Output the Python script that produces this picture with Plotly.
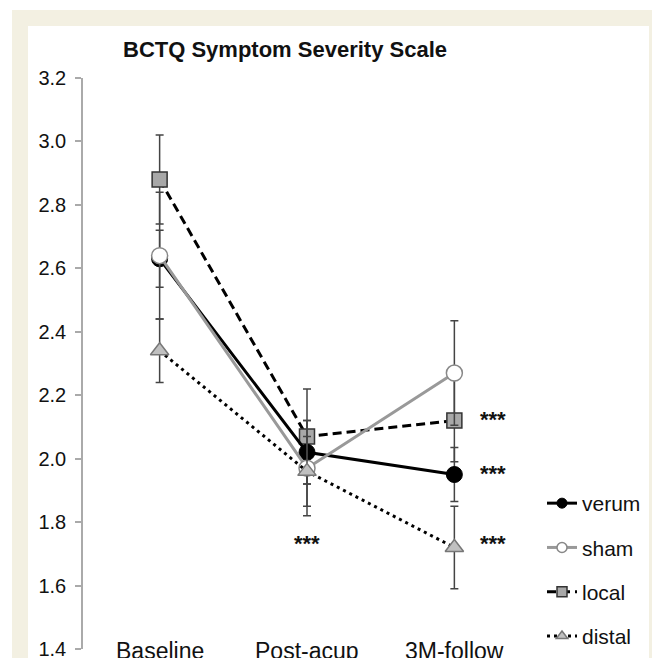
import plotly.graph_objects as go

categories = ["Baseline", "Post-acup", "3M-follow"]
x_pos = [0, 1, 2]

verum = [2.63, 2.02, 1.95]
verum_err = [0.09, 0.10, 0.085]
sham = [2.64, 1.97, 2.27]
sham_err = [0.20, 0.15, 0.165]
local = [2.88, 2.07, 2.12]
local_err = [0.14, 0.15, 0.13]
distal = [2.34, 1.96, 1.72]
distal_err = [0.10, 0.11, 0.13]

y_ticks = [1.4, 1.6, 1.8, 2.0, 2.2, 2.4, 2.6, 2.8, 3.0, 3.2]
star_x = [1, 2.26, 2.26, 2.26]
star_y = [1.74, 2.13, 1.96, 1.74]

# page body has an 8px margin; design in screen coords and convert
OFF = 8
W, H = 660, 658
L, R, T, B = 75, 137, 70, 17
pw = W - L - R
ph = H - T - B

def sx2x(px):
    return (px - OFF - L) / pw

def sy2y(py):
    return (H - B - (py - OFF)) / ph

err_style = dict(type="data", visible=True, color="#444", thickness=1.5, width=4)
FONT = "Liberation Sans, Arial"

styles = {
    "verum": dict(line=dict(color="black", width=3, dash="solid"),
                  marker=dict(symbol="circle", color="black", line=dict(color="black", width=1))),
    "sham": dict(line=dict(color="#999999", width=3, dash="solid"),
                 marker=dict(symbol="circle", color="white", line=dict(color="#888", width=1.5))),
    "local": dict(line=dict(color="black", width=3, dash="9px,5px"),
                  marker=dict(symbol="square", color="#a8a8a8", line=dict(color="#333", width=1.5))),
    "distal": dict(line=dict(color="black", width=3, dash="3px,4px"),
                   marker=dict(symbol="triangle-up", color="#c0c0c0", line=dict(color="#777", width=1.5))),
}
sizes = {"verum": 16, "sham": 16, "local": 15, "distal": 16}
data = {"verum": (verum, verum_err), "sham": (sham, sham_err),
        "local": (local, local_err), "distal": (distal, distal_err)}

fig = go.Figure()

for name in ["local", "verum", "sham", "distal"]:
    vals, errs = data[name]
    st = styles[name]
    fig.add_trace(go.Scatter(
        x=x_pos, y=vals, name=name, mode="lines+markers", showlegend=False,
        line=st["line"], marker=dict(size=sizes[name], **st["marker"]),
        error_y=dict(array=errs, **err_style),
    ))

# legend entries with smaller symbols
for i, name in enumerate(["verum", "sham", "local", "distal"]):
    st = styles[name]
    fig.add_trace(go.Scatter(
        x=[None], y=[None], name=name, mode="lines+markers", legendgroup=name,
        legendrank=i + 1,
        line=st["line"],
        marker=dict(size=10, **st["marker"]),
    ))

annotations = []
for c, xp in zip(categories, x_pos):
    annotations.append(dict(x=xp, y=1.4, xref="x", yref="y", text=c, showarrow=False,
                            font=dict(size=23, color="#111", family=FONT),
                            yanchor="middle", xanchor="center", yshift=-2))
for sxv, syv in zip(star_x, star_y):
    annotations.append(dict(x=sxv, y=syv, xref="x", yref="y", text="<b>***</b>", showarrow=False,
                            font=dict(size=22, color="#111", family=FONT),
                            yanchor="middle", xanchor="center", yshift=-2))
annotations.append(dict(x=sx2x(285), y=sy2y(50), xref="paper", yref="paper",
                        text="<b>BCTQ Symptom Severity Scale</b>", showarrow=False,
                        font=dict(size=22, color="#111", family=FONT),
                        xanchor="center", yanchor="middle"))

shapes = [
    dict(type="rect", xref="paper", yref="paper", layer="below",
         x0=sx2x(12), x1=sx2x(675), y0=sy2y(675), y1=sy2y(10),
         fillcolor="#f3f0e2", line=dict(width=0)),
    dict(type="rect", xref="paper", yref="paper", layer="below",
         x0=sx2x(28), x1=sx2x(649), y0=sy2y(675), y1=sy2y(26),
         fillcolor="white", line=dict(width=0)),
]

fig.update_layout(
    width=W, height=H,
    margin=dict(l=L, r=R, t=T, b=B, autoexpand=False),
    paper_bgcolor="white",
    plot_bgcolor="rgba(0,0,0,0)",
    font=dict(family=FONT, color="#111"),
    showlegend=True,
    legend=dict(x=sx2x(542), y=sy2y(483), xanchor="left", yanchor="top",
                font=dict(size=21, color="#111"), bgcolor="rgba(0,0,0,0)",
                tracegroupgap=14, traceorder="grouped"),
    annotations=annotations,
    shapes=shapes,
    xaxis=dict(range=[-0.52, 2.52], showgrid=False, zeroline=False, showline=False,
               showticklabels=False, ticks=""),
    yaxis=dict(range=[1.4, 3.2], tickvals=y_ticks, ticktext=[f"{v:.1f}" for v in y_ticks],
               showgrid=False, zeroline=False, showline=True, linecolor="#aaa", linewidth=1.5,
               ticks="outside", ticklen=6, tickcolor="#aaa", tickwidth=1.5,
               tickfont=dict(size=20, color="#111"), ticklabelstandoff=5),
)

fig.write_html("out.html")
